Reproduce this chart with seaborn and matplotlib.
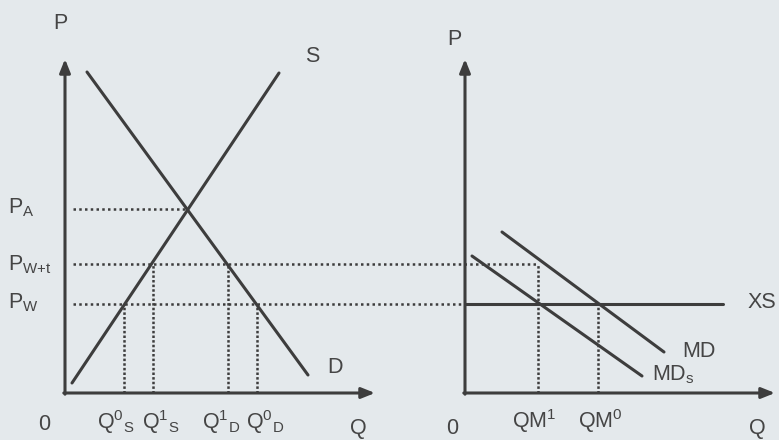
import matplotlib
matplotlib.use("Agg")
import matplotlib.pyplot as plt
import seaborn as sns
import pandas as pd

# ---------------- data (economic units) ----------------
# Left panel: domestic market
supply_q = [0.175, 5.35]
supply_p = [0.25, 8.0]
demand_q = [0.55, 6.075]
demand_p = [8.025, 0.45]

price_names = ["PA", "PWt", "PW"]
price_values = [4.6, 3.225, 2.225]
P_A, P_WT, P_W = price_values

qty_names = ["Q0S", "Q1S", "Q1D", "Q0D"]
qty_values = [1.475, 2.2, 4.075, 4.8]
Q0S, Q1S, Q1D, Q0D = qty_values

# Right panel: import market
md_q = [0.925, 4.975]
md_p = [4.025, 1.025]
mds_q = [0.175, 4.425]
mds_p = [3.425, 0.425]
xs_q = [0.0, 6.45]
qm_names = ["QM1", "QM0"]
qm_values = [1.825, 3.325]
QM1, QM0 = qm_values

axis_top = 8.35
axis_right = 7.75

# ---------------- style ----------------
sns.set_theme(style="white")
plt.rcParams["font.family"] = ["Liberation Sans", "DejaVu Sans"]
plt.rcParams["mathtext.fontset"] = "custom"
plt.rcParams["mathtext.rm"] = "Liberation Sans"
plt.rcParams["mathtext.it"] = "Liberation Sans"
plt.rcParams["mathtext.bf"] = "Liberation Sans"

BG = "#e4e9ec"
LC = "#3d3d3d"
TC = "#454545"
FS = 15.5
RX = 10.0  # horizontal offset of the right panel

fig = plt.figure(figsize=(7.79, 4.4), dpi=100, facecolor=BG)
ax = fig.add_axes([0, 0, 1, 1])
ax.set_facecolor(BG)
ax.set_xlim(-1.625, 17.85)
ax.set_ylim(-1.175, 9.825)
ax.axis("off")

# axes with arrows
arrow = dict(arrowstyle="-|>,head_length=0.8,head_width=0.32", lw=2.2,
             color=LC, shrinkA=0, shrinkB=0, mutation_scale=10)
for ox in (0.0, RX):
    ax.annotate("", xy=(ox, axis_top), xytext=(ox, -0.03), arrowprops=arrow)
    ax.annotate("", xy=(ox + axis_right, 0), xytext=(ox - 0.03, 0), arrowprops=arrow)

# curves
curves = pd.concat([
    pd.DataFrame({"q": supply_q, "p": supply_p, "curve": "S"}),
    pd.DataFrame({"q": demand_q, "p": demand_p, "curve": "D"}),
    pd.DataFrame({"q": [RX + v for v in md_q], "p": md_p, "curve": "MD"}),
    pd.DataFrame({"q": [RX + v for v in mds_q], "p": mds_p, "curve": "MDs"}),
    pd.DataFrame({"q": [RX + v for v in xs_q], "p": [P_W, P_W], "curve": "XS"}),
])
sns.lineplot(data=curves, x="q", y="p", units="curve", estimator=None,
             color=LC, lw=2.2, sort=False, ax=ax, legend=False)

# dotted guide lines
hdot = dict(color=LC, lw=1.8, linestyle=(0, (1, 1.3)))
vdot = dict(color=LC, lw=1.8, linestyle=(0, (1, 0.85)))
x0 = 0.2
ax.hlines(P_A, x0, 3.075, **hdot)
ax.hlines(P_WT, x0, RX + QM1, **hdot)
ax.hlines(P_W, x0, RX, **hdot)
ax.vlines(Q0S, 0, P_W, **vdot)
ax.vlines(Q1S, 0, P_WT, **vdot)
ax.vlines(Q1D, 0, P_WT, **vdot)
ax.vlines(Q0D, 0, P_W, **vdot)
ax.vlines(RX + QM1, 0, P_WT, **vdot)
ax.vlines(RX + QM0, 0, P_W, **vdot)

# labels
def lab(x, y, s, size=FS):
    ax.text(x, y, s, fontsize=size, color=TC, ha="left", va="baseline")

lab(-0.3, 9.1, "P")
lab(6.0, 8.275, "S")
lab(6.55, 0.5, "D")
lab(-1.425, 4.5, r"$\mathrm{P_{A}}$")
lab(-1.425, 3.075, r"$\mathrm{P_{W{+}t}}$")
lab(-1.425, 2.125, r"$\mathrm{P_{W}}$")
lab(-0.675, -0.925, "0")
lab(0.8, -0.9, r"$\mathrm{Q^{0}{}_{S}}$")
lab(1.925, -0.9, r"$\mathrm{Q^{1}{}_{S}}$")
lab(3.425, -0.9, r"$\mathrm{Q^{1}{}_{D}}$")
lab(4.525, -0.9, r"$\mathrm{Q^{0}{}_{D}}$")
lab(7.125, -1.02, "Q")

lab(RX - 0.45, 8.7, "P")
lab(RX - 0.475, -1.03, "0")
lab(RX + 1.175, -0.875, r"$\mathrm{QM^{1}}$")
lab(RX + 2.825, -0.875, r"$\mathrm{QM^{0}}$")
lab(RX + 7.1, -1.02, "Q")
lab(RX + 7.075, 2.125, "XS")
lab(RX + 5.425, 0.9, "MD")
lab(RX + 4.675, 0.325, r"$\mathrm{MD_{s}}$")

fig.savefig("out.png", dpi=100, facecolor=BG)
